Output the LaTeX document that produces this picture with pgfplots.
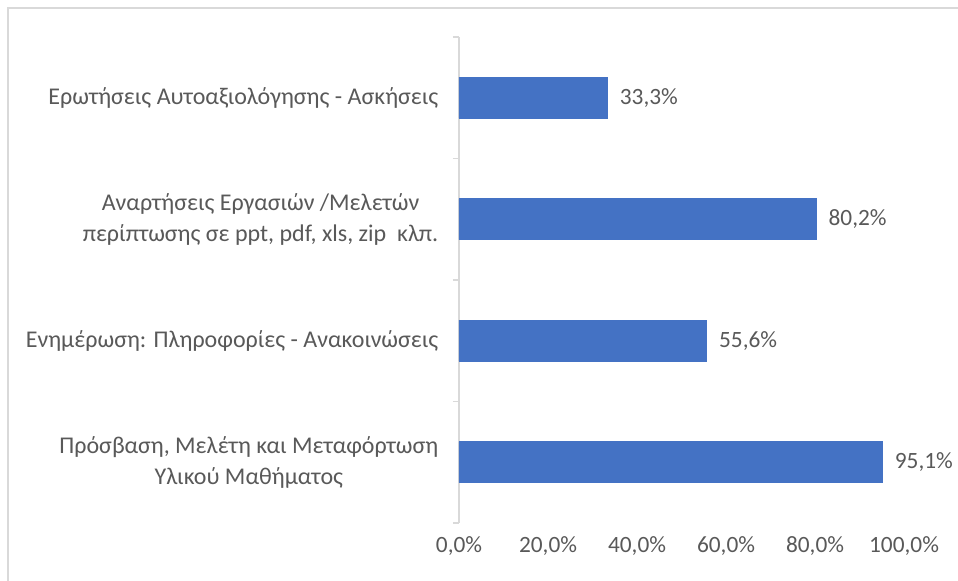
\documentclass[border=0pt]{standalone}
\usepackage{fontspec}
\setmainfont{Carlito}
\usepackage{pgfplots}
\pgfplotsset{compat=1.18}
\definecolor{barblue}{HTML}{4472C4}
\definecolor{txt}{HTML}{595959}
\definecolor{axgray}{HTML}{D9D9D9}
\begin{document}
\begin{tikzpicture}
\useasboundingbox (0,0) rectangle (718.5pt,435.75pt);
\fill[white] (0,0) rectangle (718.5pt,435.75pt);
\draw[axgray, line width=1.5pt] (6pt,-2pt) -- (6pt,429.75pt) -- (722pt,429.75pt);
\begin{axis}[
  at={(344.25pt,43.5pt)}, anchor=south west,
  scale only axis, width=333.75pt, height=364.5pt,
  xmin=0, xmax=100, ymin=-0.5, ymax=3.5,
  xbar, bar width=30.75pt, bar shift=0pt,
  axis y line*=left, axis x line*=bottom,
  x axis line style={draw=none},
  y axis line style={axgray, line width=1pt},
  xtick={0,20,40,60,80,100},
  xticklabels={{0,0\%},{20,0\%},{40,0\%},{60,0\%},{80,0\%},{100,0\%}},
  xtick style={draw=none},
  ytick={0,1,2,3},
  yticklabels={{Πρόσβαση, Μελέτη και Μεταφόρτωση\\Υλικού Μαθήματος},
               {Ενημέρωση: Πληροφορίες - Ανακοινώσεις},
               {Αναρτήσεις Εργασιών /Μελετών\\περίπτωσης σε ppt, pdf, xls, zip\ \ κλπ.},
               {Ερωτήσεις Αυτοαξιολόγησης - Ασκήσεις}},
  minor ytick={-0.5,0.5,1.5,2.5,3.5},
  tick align=outside,
  major tick length=0pt, minor tick length=4.5pt,
  minor y tick style={axgray, line width=1pt},
  yticklabel style={font=\fontsize{18}{23}\selectfont, text=txt, align=center, xshift=-12pt},
  xticklabel style={font=\fontsize{17.5}{22.5}\selectfont, text=txt, yshift=-7pt},
  nodes near coords, point meta=explicit symbolic,
  nodes near coords style={anchor=west, xshift=6pt, font=\fontsize{17.5}{22.5}\selectfont, text=txt},
  clip=false,
]
\addplot[fill=barblue, draw=barblue] coordinates {
  (95.1,0) [95,1\%]
  (55.6,1) [55,6\%]
  (80.2,2) [80,2\%]
  (33.3,3) [33,3\%]
};
\end{axis}
\end{tikzpicture}
\end{document}
